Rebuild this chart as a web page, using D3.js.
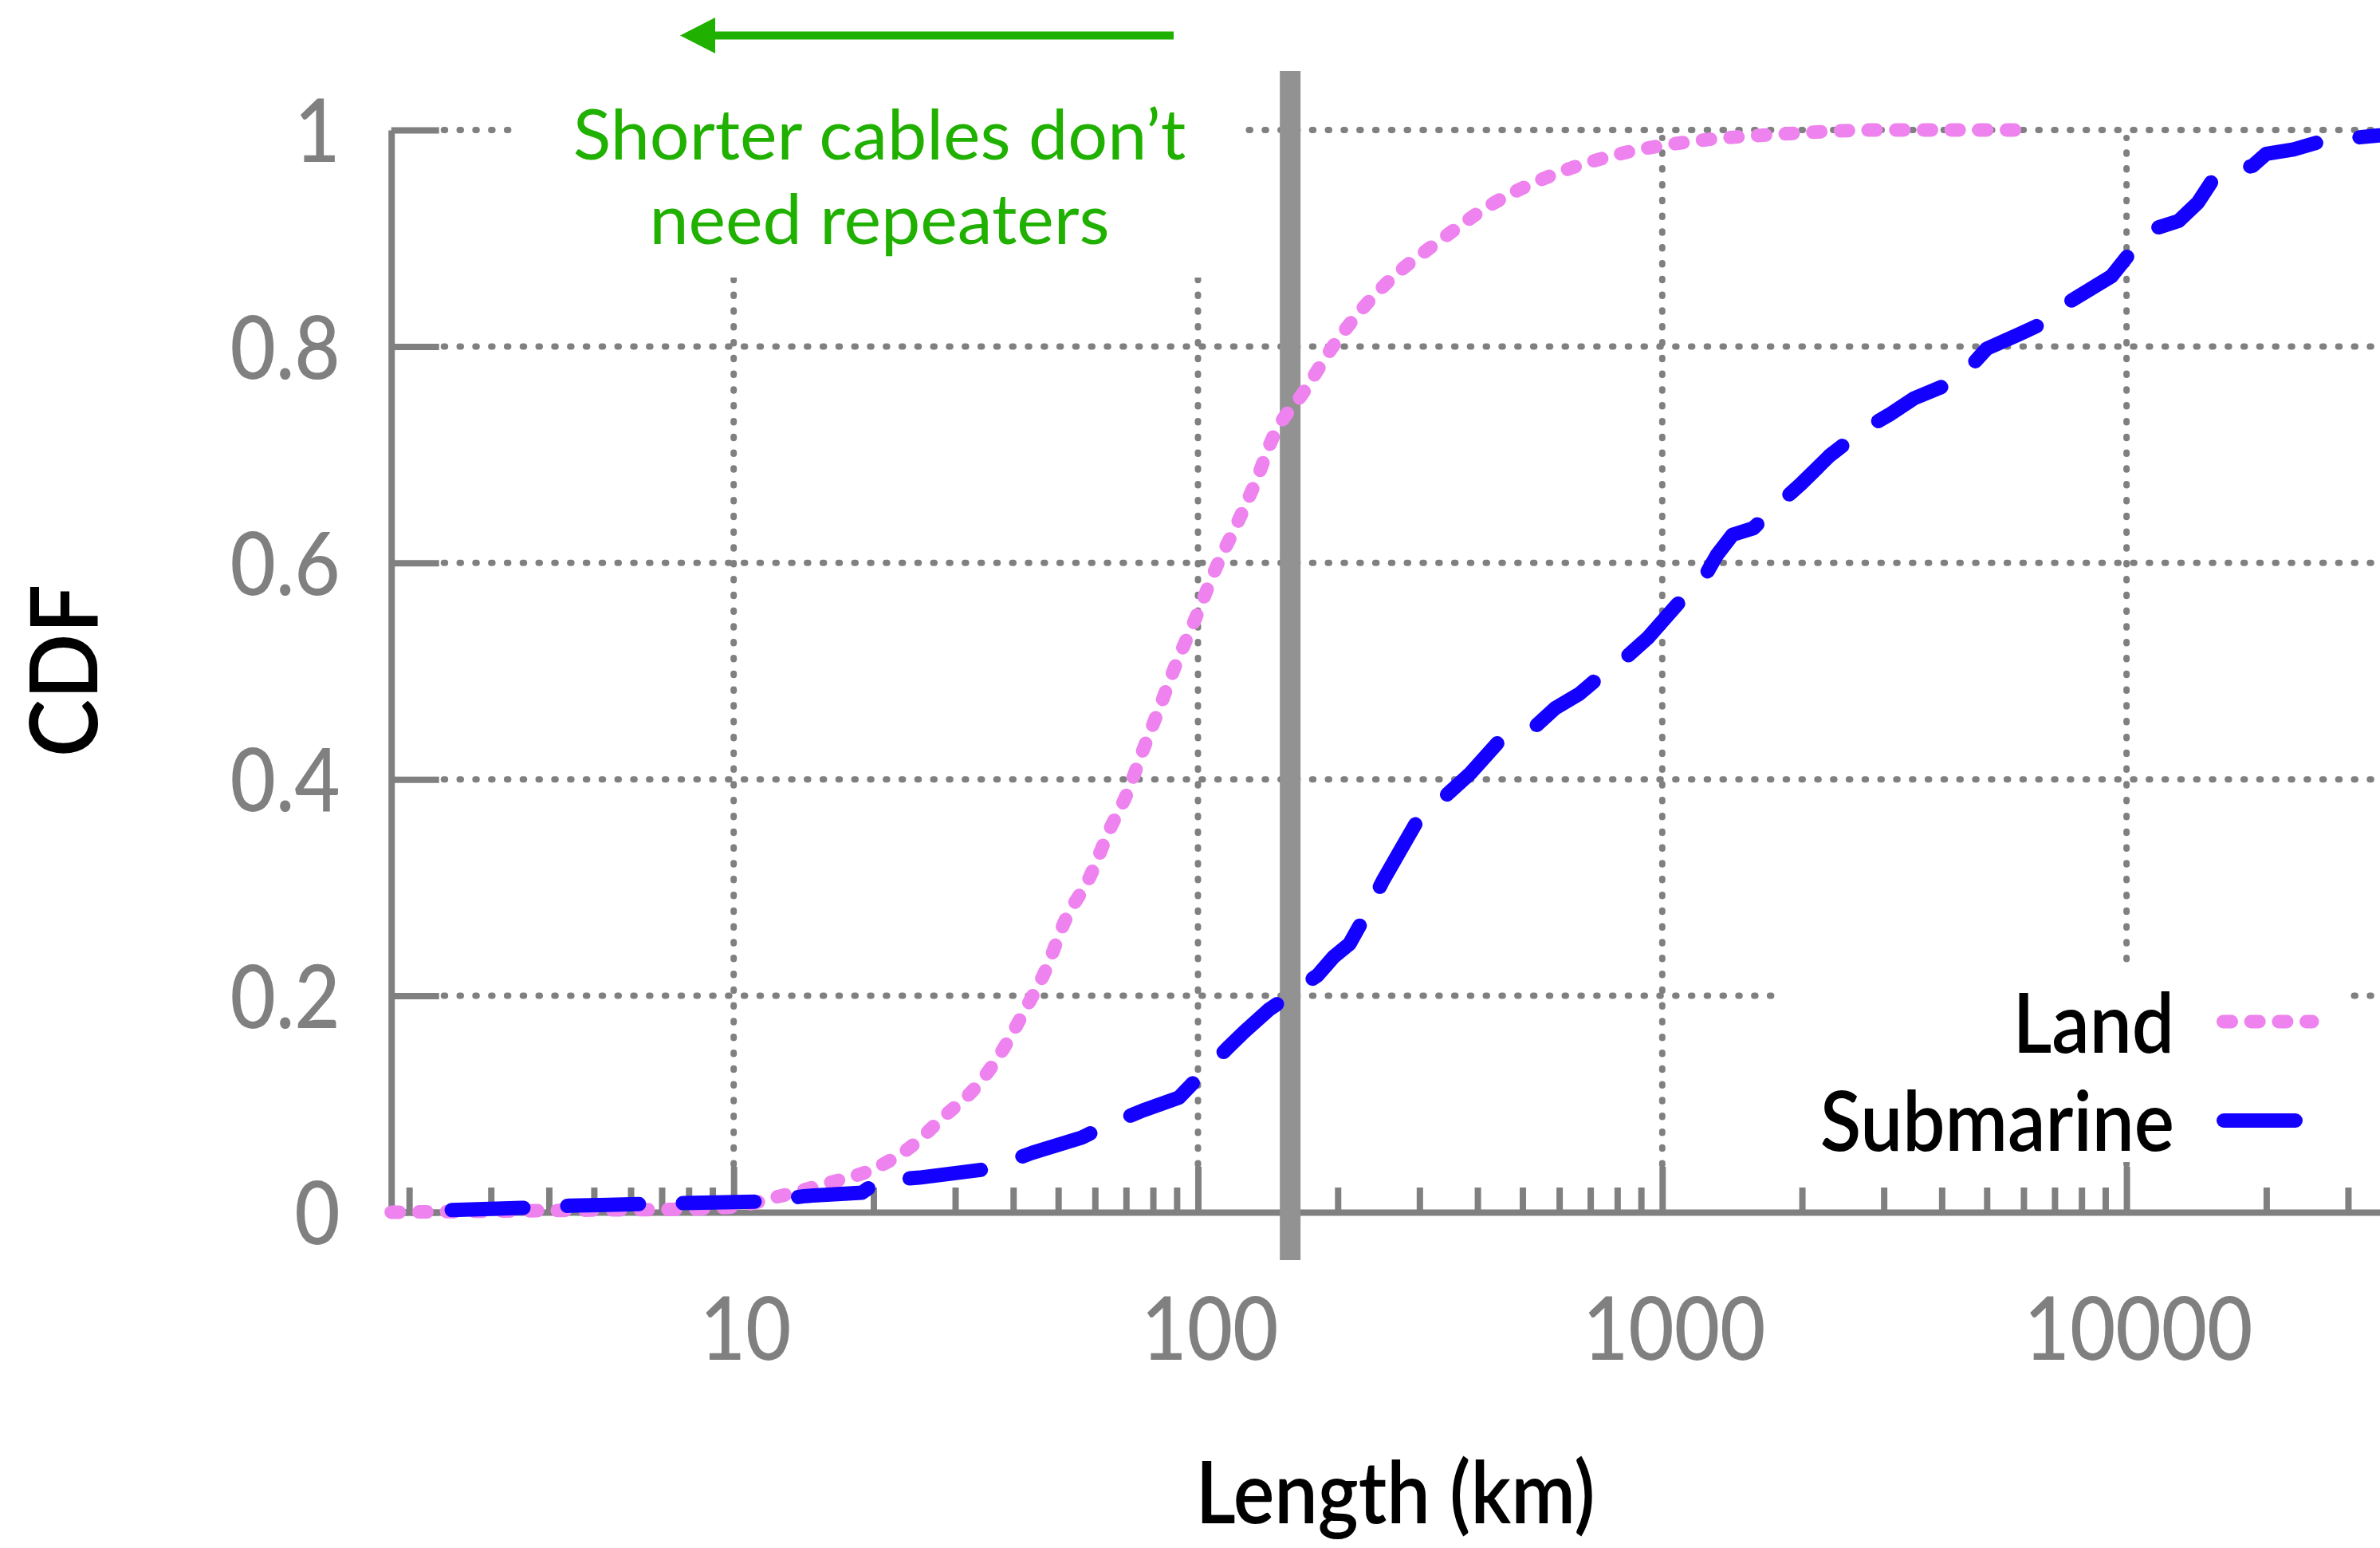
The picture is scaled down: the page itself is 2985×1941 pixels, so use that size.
<!DOCTYPE html>
<html>
<head>
<meta charset="utf-8">
<title>Cable length CDF</title>
<style>
  body { margin: 0; background: #fff; }
  text { font-family: Lato, "Open Sans", sans-serif; }
</style>
</head>
<body>
<svg width="2985" height="1941"></svg>

<script src="https://d3js.org/d3.v7.min.js"></script>
<script>

// cable lengths (km) and cumulative fraction
var landKm  = [1.83, 3, 5, 8, 10, 12.6, 16, 20, 24, 28.3, 33.3, 37.6, 42.4, 46.9, 51.8, 58.5, 64.6, 70.2, 76, 82.6,
               89.4, 98.6, 110, 121, 134, 145, 169, 196, 221, 260, 330, 428, 577, 811, 1186, 1766, 2963, 5970];
var landCdf = [0, 0.001, 0.002, 0.003, 0.005, 0.015, 0.027, 0.04, 0.06, 0.088, 0.116, 0.147, 0.187, 0.223, 0.27, 0.31, 0.354, 0.386, 0.426, 0.466,
               0.505, 0.548, 0.598, 0.635, 0.678, 0.716, 0.758, 0.801, 0.83, 0.862, 0.897, 0.931, 0.958, 0.978, 0.99, 0.996, 1, 1];

var subKm  = [2.47, 3.5, 4.43, 7, 11.7, 14.3, 18.9, 20.5, 25.1, 35.3, 44, 56.2, 63.4, 76, 91, 103, 116, 126, 142, 151,
              181, 196, 212, 230, 250, 270, 298, 344, 387, 445, 533, 589, 663, 720, 827, 932, 1074, 1233, 1310, 1417,
              1570, 1767, 1990, 2293, 2686, 3085, 3485, 4340, 5000, 5850, 6880, 7450, 9290, 10250, 11320, 12950, 14250,
              15500, 18700, 20000, 22900, 26500, 35000];
var subCdf = [0.002, 0.004, 0.006, 0.008, 0.01, 0.015, 0.018, 0.029, 0.032, 0.04, 0.055, 0.069, 0.08, 0.094, 0.106, 0.13, 0.152, 0.167, 0.187, 0.195,
              0.219, 0.236, 0.248, 0.275, 0.306, 0.331, 0.363, 0.386, 0.406, 0.435, 0.449, 0.466, 0.479, 0.492, 0.511, 0.531, 0.561, 0.587, 0.607, 0.626,
              0.632, 0.653, 0.673, 0.699, 0.722, 0.737, 0.752, 0.769, 0.798, 0.811, 0.825, 0.84, 0.865, 0.888, 0.908, 0.916, 0.933,
              0.957, 0.967, 0.978, 0.982, 0.99, 0.995];

var xTickValues = [10, 100, 1000, 10000];
var yTickValues = [0, 0.2, 0.4, 0.6, 0.8, 1];
var repeaterCutoffKm = 158;
var seriesNames = ["Land", "Submarine"];
var noteLines = ["Shorter cables don\u2019t", "need repeaters"];

var grey = "#808080", violet = "#ee82ee", blue = "#1400ff", green = "#20b000";
var squeeze = "scale(0.9,1)";   // the original face is narrower than Lato

var svg = d3.select("svg");

var x = d3.scaleLog().domain([1.83, 35150]).range([490.7, 2985]);
var y = d3.scaleLinear().domain([0, 1]).range([1520, 163]);

// dotted grid
var grid = svg.append("g")
    .attr("stroke", grey)
    .attr("stroke-width", 8)
    .attr("stroke-linecap", "round")
    .attr("stroke-dasharray", "1.5,18.3");

grid.selectAll(".h").data(yTickValues.slice(1)).enter().append("line")
    .attr("x1", x.range()[0] + 66).attr("x2", x.range()[1])
    .attr("y1", y).attr("y2", y);

grid.selectAll(".v").data(xTickValues).enter().append("line")
    .attr("x1", x).attr("x2", x)
    .attr("y1", y(0) - 60).attr("y2", y(1) + 10);

// white boxes behind the note and the key
svg.append("rect").attr("x", 648).attr("y", 60).attr("width", 913).attr("height", 288).attr("fill", "#fff");
svg.append("rect").attr("x", 2233).attr("y", 1217).attr("width", 712).attr("height", 240).attr("fill", "#fff");

// axes
var gx = svg.append("g")
    .attr("transform", "translate(0," + y(0) + ")")
    .call(d3.axisBottom(x).tickValues(xTickValues).tickSize(-57).tickSizeOuter(0).tickFormat(d3.format("d")));

var minorTicks = x.ticks().filter(function(d) { return xTickValues.indexOf(d) < 0; });
var gxm = svg.append("g")
    .attr("transform", "translate(0," + y(0) + ")")
    .call(d3.axisBottom(x).tickValues(minorTicks).tickSize(-31).tickSizeOuter(0).tickFormat(""));
gxm.select(".domain").remove();

var gy = svg.append("g")
    .attr("transform", "translate(" + x.range()[0] + ",0)")
    .call(d3.axisLeft(y).tickValues(yTickValues).tickSize(-60).tickSizeOuter(0).tickFormat(function(d) { return String(d); }));

[gx, gxm, gy].forEach(function(g) {
  g.select(".domain").attr("stroke", grey).attr("stroke-width", 8);
  g.selectAll(".tick line").attr("stroke", grey).attr("stroke-width", 8);
});

gx.selectAll(".tick text")
    .attr("fill", grey)
    .attr("font-size", 110)
    .attr("font-weight", 500)
    .attr("x", 16)
    .attr("y", 185)
    .attr("dy", 0)
    .attr("transform", squeeze);

gy.selectAll(".tick text")
    .attr("fill", grey)
    .attr("font-size", 110)
    .attr("font-weight", 500)
    .attr("x", -64 / 0.9)
    .attr("dy", "0.36em")
    .attr("transform", squeeze);

// repeater cut-off bar
svg.append("line")
    .attr("x1", x(repeaterCutoffKm)).attr("x2", x(repeaterCutoffKm))
    .attr("y1", 89).attr("y2", 1580)
    .attr("stroke", "#929292")
    .attr("stroke-width", 26);

// curves
var land = landKm.map(function(d, i) { return [d, landCdf[i]]; });
var sub = subKm.map(function(d, i) { return [d, subCdf[i]]; });

var line = d3.line()
    .x(function(d) { return x(d[0]); })
    .y(function(d) { return y(d[1]); });

svg.append("path")
    .datum(land)
    .attr("d", line.curve(d3.curveMonotoneX))
    .attr("fill", "none")
    .attr("stroke", violet)
    .attr("stroke-width", 17)
    .attr("stroke-linecap", "round")
    .attr("stroke-dasharray", "10,24.7");

svg.append("path")
    .datum(sub)
    .attr("d", line.curve(d3.curveLinear))
    .attr("fill", "none")
    .attr("stroke", blue)
    .attr("stroke-width", 18)
    .attr("stroke-linecap", "round")
    .attr("stroke-linejoin", "round")
    .attr("stroke-dasharray", "90,55");

// key
var key = svg.append("g");
key.selectAll("text").data(seriesNames).enter().append("text")
    .attr("transform", function(d, i) { return "translate(2727," + (1320 + i * 123) + ") " + squeeze; })
    .attr("text-anchor", "end")
    .attr("font-size", 105)
    .attr("font-weight", 600)
    .attr("fill", "#000")
    .text(function(d) { return d; });

key.append("line")
    .attr("x1", 2788.5).attr("x2", 2900).attr("y1", 1281).attr("y2", 1281)
    .attr("stroke", violet).attr("stroke-width", 17)
    .attr("stroke-linecap", "round").attr("stroke-dasharray", "10,24.7");

key.append("line")
    .attr("x1", 2789).attr("x2", 2879).attr("y1", 1405).attr("y2", 1405)
    .attr("stroke", blue).attr("stroke-width", 18)
    .attr("stroke-linecap", "round");

// axis titles
svg.append("text")
    .attr("transform", "translate(1750,1910) " + squeeze)
    .attr("text-anchor", "middle")
    .attr("font-size", 108)
    .attr("font-weight", 600)
    .text("Length (km)");

svg.append("text")
    .attr("transform", "translate(122,841) rotate(-90) scale(0.93,1)")
    .attr("text-anchor", "middle")
    .attr("font-size", 117)
    .attr("font-weight", 600)
    .text("CDF");

// note and arrow
svg.append("g").selectAll("text").data(noteLines).enter().append("text")
    .attr("transform", function(d, i) { return "translate(1103," + (200 + i * 106) + ")"; })
    .attr("text-anchor", "middle")
    .attr("font-size", 88)
    .attr("fill", green)
    .text(function(d) { return d; });

svg.append("line")
    .attr("x1", 1472).attr("x2", 890).attr("y1", 44.5).attr("y2", 44.5)
    .attr("stroke", green).attr("stroke-width", 10);

svg.append("path")
    .attr("d", "M853,44.5L897,22L897,67Z")
    .attr("fill", green);

</script>
</body>
</html>
